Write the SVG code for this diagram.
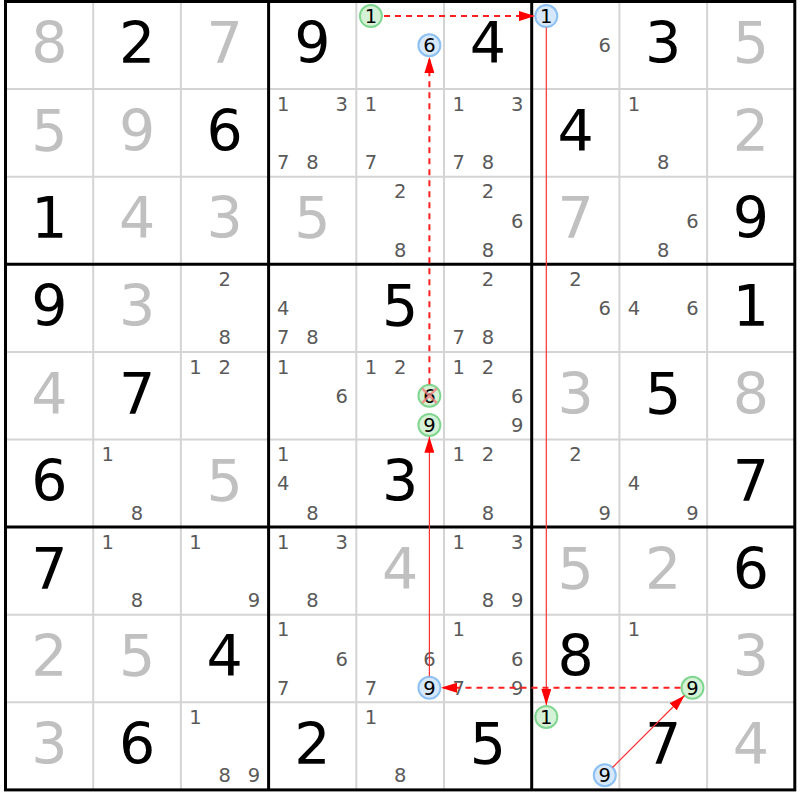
<svg xmlns="http://www.w3.org/2000/svg" width="800" height="800" viewBox="0 0 800 800">
<style>
text{font-family:"DejaVu Sans",Verdana,sans-serif;text-anchor:middle}
.g{font-size:57px;fill:#000}
.s{font-size:57px;fill:#c0c0c0}
.c{font-size:19.5px;fill:#5a5a5a}
.t{font-size:19.5px;fill:#000}
.cg{fill:#d6f2d6;stroke:#80d690;stroke-width:2}
.cb{fill:#d6e8fa;stroke:#8cc0f2;stroke-width:2}
.thin{stroke:#d4d4d4;stroke-width:2}
.thick{stroke:#000;stroke-width:3}
.ln{stroke:#ff3030;stroke-width:1.2;fill:none}
.dl{stroke:#ff2020;stroke-width:2;stroke-dasharray:6,5;fill:none}
.x{stroke:#f08080;stroke-width:2.5;opacity:0.8}
</style>
<defs>
<marker id="ah" markerUnits="userSpaceOnUse" markerWidth="16" markerHeight="10" refX="16" refY="5" orient="auto">
<path d="M0,0 L16,5 L0,10 Z" fill="#ff0000"/>
</marker>
</defs>
<rect x="0" y="0" width="800" height="800" fill="#fff"/>
<g id="grid">
<path class="thin" d="M93.2 1.5V789.9M180.9 1.5V789.9M356.3 1.5V789.9M444 1.5V789.9M619.4 1.5V789.9M707.1 1.5V789.9M5.5 89.1H794.8M5.5 176.7H794.8M5.5 351.9H794.8M5.5 439.5H794.8M5.5 614.7H794.8M5.5 702.3H794.8"/>
<path class="thick" d="M268.6 1.5V789.9M531.7 1.5V789.9M5.5 264.3H794.8M5.5 527.1H794.8"/>
<rect class="thick" x="5.5" y="1.5" width="789.3" height="788.4" fill="none"/>
</g>
<g id="r1">
<g id="r1c1" transform="translate(5.5,1.5)"><text class="s" x="43.85" y="61.8">8</text></g>
<g id="r1c2" transform="translate(93.2,1.5)"><text class="g" x="43.85" y="61.8">2</text></g>
<g id="r1c3" transform="translate(180.9,1.5)"><text class="s" x="43.85" y="61.8">7</text></g>
<g id="r1c4" transform="translate(268.6,1.5)"><text class="g" x="43.85" y="61.8">9</text></g>
<g id="r1c5" transform="translate(356.3,1.5)"><circle class="cg" cx="14.6" cy="14.6" r="11"/><text class="t" x="14.6" y="21.7">1</text><circle class="cb" cx="73.1" cy="43.8" r="11"/><text class="t" x="73.1" y="50.9">6</text></g>
<g id="r1c6" transform="translate(444,1.5)"><text class="g" x="43.85" y="61.8">4</text></g>
<g id="r1c7" transform="translate(531.7,1.5)"><circle class="cb" cx="14.6" cy="14.6" r="11"/><text class="t" x="14.6" y="21.7">1</text><text class="c" x="73.1" y="50.9">6</text></g>
<g id="r1c8" transform="translate(619.4,1.5)"><text class="g" x="43.85" y="61.8">3</text></g>
<g id="r1c9" transform="translate(707.1,1.5)"><text class="s" x="43.85" y="61.8">5</text></g>
</g>
<g id="r2">
<g id="r2c1" transform="translate(5.5,89.1)"><text class="s" x="43.85" y="61.8">5</text></g>
<g id="r2c2" transform="translate(93.2,89.1)"><text class="s" x="43.85" y="61.8">9</text></g>
<g id="r2c3" transform="translate(180.9,89.1)"><text class="g" x="43.85" y="61.8">6</text></g>
<g id="r2c4" transform="translate(268.6,89.1)"><text class="c" x="14.6" y="21.7">1</text><text class="c" x="73.1" y="21.7">3</text><text class="c" x="14.6" y="80.1">7</text><text class="c" x="43.85" y="80.1">8</text></g>
<g id="r2c5" transform="translate(356.3,89.1)"><text class="c" x="14.6" y="21.7">1</text><text class="c" x="14.6" y="80.1">7</text></g>
<g id="r2c6" transform="translate(444,89.1)"><text class="c" x="14.6" y="21.7">1</text><text class="c" x="73.1" y="21.7">3</text><text class="c" x="14.6" y="80.1">7</text><text class="c" x="43.85" y="80.1">8</text></g>
<g id="r2c7" transform="translate(531.7,89.1)"><text class="g" x="43.85" y="61.8">4</text></g>
<g id="r2c8" transform="translate(619.4,89.1)"><text class="c" x="14.6" y="21.7">1</text><text class="c" x="43.85" y="80.1">8</text></g>
<g id="r2c9" transform="translate(707.1,89.1)"><text class="s" x="43.85" y="61.8">2</text></g>
</g>
<g id="r3">
<g id="r3c1" transform="translate(5.5,176.7)"><text class="g" x="43.85" y="61.8">1</text></g>
<g id="r3c2" transform="translate(93.2,176.7)"><text class="s" x="43.85" y="61.8">4</text></g>
<g id="r3c3" transform="translate(180.9,176.7)"><text class="s" x="43.85" y="61.8">3</text></g>
<g id="r3c4" transform="translate(268.6,176.7)"><text class="s" x="43.85" y="61.8">5</text></g>
<g id="r3c5" transform="translate(356.3,176.7)"><text class="c" x="43.85" y="21.7">2</text><text class="c" x="43.85" y="80.1">8</text></g>
<g id="r3c6" transform="translate(444,176.7)"><text class="c" x="43.85" y="21.7">2</text><text class="c" x="73.1" y="50.9">6</text><text class="c" x="43.85" y="80.1">8</text></g>
<g id="r3c7" transform="translate(531.7,176.7)"><text class="s" x="43.85" y="61.8">7</text></g>
<g id="r3c8" transform="translate(619.4,176.7)"><text class="c" x="73.1" y="50.9">6</text><text class="c" x="43.85" y="80.1">8</text></g>
<g id="r3c9" transform="translate(707.1,176.7)"><text class="g" x="43.85" y="61.8">9</text></g>
</g>
<g id="r4">
<g id="r4c1" transform="translate(5.5,264.3)"><text class="g" x="43.85" y="61.8">9</text></g>
<g id="r4c2" transform="translate(93.2,264.3)"><text class="s" x="43.85" y="61.8">3</text></g>
<g id="r4c3" transform="translate(180.9,264.3)"><text class="c" x="43.85" y="21.7">2</text><text class="c" x="43.85" y="80.1">8</text></g>
<g id="r4c4" transform="translate(268.6,264.3)"><text class="c" x="14.6" y="50.9">4</text><text class="c" x="14.6" y="80.1">7</text><text class="c" x="43.85" y="80.1">8</text></g>
<g id="r4c5" transform="translate(356.3,264.3)"><text class="g" x="43.85" y="61.8">5</text></g>
<g id="r4c6" transform="translate(444,264.3)"><text class="c" x="43.85" y="21.7">2</text><text class="c" x="14.6" y="80.1">7</text><text class="c" x="43.85" y="80.1">8</text></g>
<g id="r4c7" transform="translate(531.7,264.3)"><text class="c" x="43.85" y="21.7">2</text><text class="c" x="73.1" y="50.9">6</text></g>
<g id="r4c8" transform="translate(619.4,264.3)"><text class="c" x="14.6" y="50.9">4</text><text class="c" x="73.1" y="50.9">6</text></g>
<g id="r4c9" transform="translate(707.1,264.3)"><text class="g" x="43.85" y="61.8">1</text></g>
</g>
<g id="r5">
<g id="r5c1" transform="translate(5.5,351.9)"><text class="s" x="43.85" y="61.8">4</text></g>
<g id="r5c2" transform="translate(93.2,351.9)"><text class="g" x="43.85" y="61.8">7</text></g>
<g id="r5c3" transform="translate(180.9,351.9)"><text class="c" x="14.6" y="21.7">1</text><text class="c" x="43.85" y="21.7">2</text></g>
<g id="r5c4" transform="translate(268.6,351.9)"><text class="c" x="14.6" y="21.7">1</text><text class="c" x="73.1" y="50.9">6</text></g>
<g id="r5c5" transform="translate(356.3,351.9)"><text class="c" x="14.6" y="21.7">1</text><text class="c" x="43.85" y="21.7">2</text><circle class="cg" cx="73.1" cy="43.8" r="11"/><text class="t" x="73.1" y="50.9">6</text><path class="x" d="M65.8 36.5L80.4 51.1M80.4 36.5L65.8 51.1"/><circle class="cg" cx="73.1" cy="73" r="11"/><text class="t" x="73.1" y="80.1">9</text></g>
<g id="r5c6" transform="translate(444,351.9)"><text class="c" x="14.6" y="21.7">1</text><text class="c" x="43.85" y="21.7">2</text><text class="c" x="73.1" y="50.9">6</text><text class="c" x="73.1" y="80.1">9</text></g>
<g id="r5c7" transform="translate(531.7,351.9)"><text class="s" x="43.85" y="61.8">3</text></g>
<g id="r5c8" transform="translate(619.4,351.9)"><text class="g" x="43.85" y="61.8">5</text></g>
<g id="r5c9" transform="translate(707.1,351.9)"><text class="s" x="43.85" y="61.8">8</text></g>
</g>
<g id="r6">
<g id="r6c1" transform="translate(5.5,439.5)"><text class="g" x="43.85" y="61.8">6</text></g>
<g id="r6c2" transform="translate(93.2,439.5)"><text class="c" x="14.6" y="21.7">1</text><text class="c" x="43.85" y="80.1">8</text></g>
<g id="r6c3" transform="translate(180.9,439.5)"><text class="s" x="43.85" y="61.8">5</text></g>
<g id="r6c4" transform="translate(268.6,439.5)"><text class="c" x="14.6" y="21.7">1</text><text class="c" x="14.6" y="50.9">4</text><text class="c" x="43.85" y="80.1">8</text></g>
<g id="r6c5" transform="translate(356.3,439.5)"><text class="g" x="43.85" y="61.8">3</text></g>
<g id="r6c6" transform="translate(444,439.5)"><text class="c" x="14.6" y="21.7">1</text><text class="c" x="43.85" y="21.7">2</text><text class="c" x="43.85" y="80.1">8</text></g>
<g id="r6c7" transform="translate(531.7,439.5)"><text class="c" x="43.85" y="21.7">2</text><text class="c" x="73.1" y="80.1">9</text></g>
<g id="r6c8" transform="translate(619.4,439.5)"><text class="c" x="14.6" y="50.9">4</text><text class="c" x="73.1" y="80.1">9</text></g>
<g id="r6c9" transform="translate(707.1,439.5)"><text class="g" x="43.85" y="61.8">7</text></g>
</g>
<g id="r7">
<g id="r7c1" transform="translate(5.5,527.1)"><text class="g" x="43.85" y="61.8">7</text></g>
<g id="r7c2" transform="translate(93.2,527.1)"><text class="c" x="14.6" y="21.7">1</text><text class="c" x="43.85" y="80.1">8</text></g>
<g id="r7c3" transform="translate(180.9,527.1)"><text class="c" x="14.6" y="21.7">1</text><text class="c" x="73.1" y="80.1">9</text></g>
<g id="r7c4" transform="translate(268.6,527.1)"><text class="c" x="14.6" y="21.7">1</text><text class="c" x="73.1" y="21.7">3</text><text class="c" x="43.85" y="80.1">8</text></g>
<g id="r7c5" transform="translate(356.3,527.1)"><text class="s" x="43.85" y="61.8">4</text></g>
<g id="r7c6" transform="translate(444,527.1)"><text class="c" x="14.6" y="21.7">1</text><text class="c" x="73.1" y="21.7">3</text><text class="c" x="43.85" y="80.1">8</text><text class="c" x="73.1" y="80.1">9</text></g>
<g id="r7c7" transform="translate(531.7,527.1)"><text class="s" x="43.85" y="61.8">5</text></g>
<g id="r7c8" transform="translate(619.4,527.1)"><text class="s" x="43.85" y="61.8">2</text></g>
<g id="r7c9" transform="translate(707.1,527.1)"><text class="g" x="43.85" y="61.8">6</text></g>
</g>
<g id="r8">
<g id="r8c1" transform="translate(5.5,614.7)"><text class="s" x="43.85" y="61.8">2</text></g>
<g id="r8c2" transform="translate(93.2,614.7)"><text class="s" x="43.85" y="61.8">5</text></g>
<g id="r8c3" transform="translate(180.9,614.7)"><text class="g" x="43.85" y="61.8">4</text></g>
<g id="r8c4" transform="translate(268.6,614.7)"><text class="c" x="14.6" y="21.7">1</text><text class="c" x="73.1" y="50.9">6</text><text class="c" x="14.6" y="80.1">7</text></g>
<g id="r8c5" transform="translate(356.3,614.7)"><text class="c" x="73.1" y="50.9">6</text><text class="c" x="14.6" y="80.1">7</text><circle class="cb" cx="73.1" cy="73" r="11"/><text class="t" x="73.1" y="80.1">9</text></g>
<g id="r8c6" transform="translate(444,614.7)"><text class="c" x="14.6" y="21.7">1</text><text class="c" x="73.1" y="50.9">6</text><text class="c" x="14.6" y="80.1">7</text><text class="c" x="73.1" y="80.1">9</text></g>
<g id="r8c7" transform="translate(531.7,614.7)"><text class="g" x="43.85" y="61.8">8</text></g>
<g id="r8c8" transform="translate(619.4,614.7)"><text class="c" x="14.6" y="21.7">1</text><circle class="cg" cx="73.1" cy="73" r="11"/><text class="t" x="73.1" y="80.1">9</text></g>
<g id="r8c9" transform="translate(707.1,614.7)"><text class="s" x="43.85" y="61.8">3</text></g>
</g>
<g id="r9">
<g id="r9c1" transform="translate(5.5,702.3)"><text class="s" x="43.85" y="61.8">3</text></g>
<g id="r9c2" transform="translate(93.2,702.3)"><text class="g" x="43.85" y="61.8">6</text></g>
<g id="r9c3" transform="translate(180.9,702.3)"><text class="c" x="14.6" y="21.7">1</text><text class="c" x="43.85" y="80.1">8</text><text class="c" x="73.1" y="80.1">9</text></g>
<g id="r9c4" transform="translate(268.6,702.3)"><text class="g" x="43.85" y="61.8">2</text></g>
<g id="r9c5" transform="translate(356.3,702.3)"><text class="c" x="14.6" y="21.7">1</text><text class="c" x="43.85" y="80.1">8</text></g>
<g id="r9c6" transform="translate(444,702.3)"><text class="g" x="43.85" y="61.8">5</text></g>
<g id="r9c7" transform="translate(531.7,702.3)"><circle class="cg" cx="14.6" cy="14.6" r="11"/><text class="t" x="14.6" y="21.7">1</text><circle class="cb" cx="73.1" cy="73" r="11"/><text class="t" x="73.1" y="80.1">9</text></g>
<g id="r9c8" transform="translate(619.4,702.3)"><text class="g" x="43.85" y="61.8">7</text></g>
<g id="r9c9" transform="translate(707.1,702.3)"><text class="s" x="43.85" y="61.8">4</text></g>
</g>
<g id="connectors">
<path class="dl" d="M384 16.1H535" marker-end="url(#ah)"/>
<path class="ln" d="M546.3 27.5V705" marker-end="url(#ah)"/>
<path class="dl" d="M680.5 687.7H441" marker-end="url(#ah)"/>
<path class="ln" d="M429.4 676.2V436.8" marker-end="url(#ah)"/>
<path class="dl" d="M429.4 384.3V56.9" marker-end="url(#ah)"/>
<path class="ln" d="M612.5 767.5L684.5 695.5" marker-end="url(#ah)"/>
</g>
</svg>
